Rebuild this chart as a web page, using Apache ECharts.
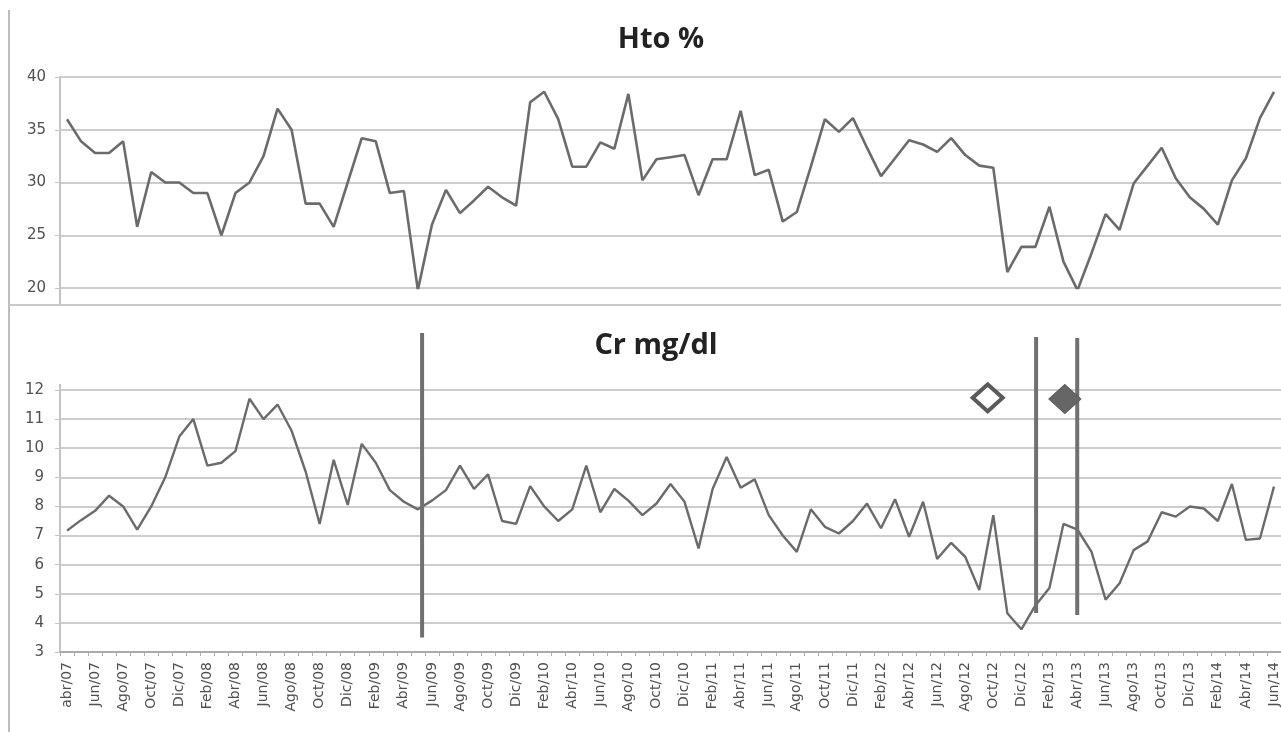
<!DOCTYPE html>
<html>
<head>
<meta charset="utf-8">
<script src="https://cdn.jsdelivr.net/npm/echarts@6/dist/echarts.min.js"></script>
<style>
html,body{margin:0;padding:0;background:#fff;}
#c{width:1281px;height:732px;}
</style>
</head>
<body>
<div id="c"></div>
<script>
// Month labels (every second month shown on the axis)
var tickLabels = ["abr/07","Jun/07","Ago/07","Oct/07","Dic/07","Feb/08","Abr/08","Jun/08","Ago/08","Oct/08","Dic/08","Feb/09","Abr/09","Jun/09","Ago/09","Oct/09","Dic/09","Feb/10","Abr/10","Jun/10","Ago/10","Oct/10","Dic/10","Feb/11","Abr/11","Jun/11","Ago/11","Oct/11","Dic/11","Feb/12","Abr/12","Jun/12","Ago/12","Oct/12","Dic/12","Feb/13","Abr/13","Jun/13","Ago/13","Oct/13","Dic/13","Feb/14","Abr/14","Jun/14"];

// Hematocrit % (monthly, abr/07 .. Jun/14)
var hto = [36.0,33.9,32.8,32.8,33.9,25.8,31.0,30.0,30.0,29.0,29.0,25.0,29.0,30.0,32.5,37.0,35.0,28.0,28.0,25.8,30.0,34.2,33.9,29.0,29.2,19.8,
  26.0,29.3,27.1,28.3,29.6,28.6,27.8,37.6,38.6,36.0,31.5,31.5,33.8,33.2,38.4,30.2,32.2,32.4,32.6,28.8,32.2,32.2,36.8,30.7,31.2,26.3,27.2,31.5,36.0,34.8,
  36.1,33.3,30.6,32.3,34.0,33.6,32.9,34.2,32.6,31.6,31.4,21.5,23.9,23.9,27.7,22.5,19.8,23.3,27.0,25.5,29.9,31.6,33.3,30.4,28.6,27.5,26.0,30.2,32.3,36.1,38.6];

// Creatinine mg/dl (monthly)
var cr = [7.17,7.53,7.85,8.37,8.0,7.2,8.0,9.0,10.4,11.0,9.4,9.5,9.9,11.7,11.0,11.5,10.6,9.2,7.4,9.6,8.05,10.15,9.5,8.56,8.16,7.9,
  8.2,8.56,9.4,8.6,9.1,7.5,7.4,8.7,8.0,7.5,7.9,9.4,7.8,8.6,8.2,7.7,8.1,8.77,8.16,6.56,8.6,9.7,8.64,8.93,7.7,7.0,6.44,7.9,7.3,7.07,
  7.5,8.1,7.25,8.25,6.96,8.16,6.2,6.75,6.27,5.13,7.7,4.33,3.78,4.6,5.2,7.4,7.2,6.44,4.8,5.36,6.5,6.8,7.8,7.65,8.0,7.93,7.5,8.77,6.85,6.9,8.68];

// Event markers (month index position, lower and upper end in Cr units)
var eventX = [25.3, 69.05, 71.98];
var eventLow = [3.5, 4.34, 4.27];
var eventHigh = [13.96, 13.82, 13.79];

// Diamond markers
var hollowDiamond = [65.6, 11.73];
var filledDiamond = [71.1, 11.69];

var htoTicks = [20, 25, 30, 35, 40];
var crTicks = [3, 4, 5, 6, 7, 8, 9, 10, 11, 12];

var htoData = hto.map(function (v, i) { return [i, v]; });
var crData = cr.map(function (v, i) { return [i, v]; });
var labelVals = tickLabels.map(function (l, i) { return i * 2; });
var tickVals = [];
for (var k = 0; k <= cr.length; k++) { tickVals.push(k - 0.5); }

var lineColor = '#6b6b6b';
var gridColor = '#cdcdcd';
var labelColor = '#505050';

var eventSeries = eventX.map(function (x, i) {
  return {
    type: 'line', xAxisIndex: 1, yAxisIndex: 1, clip: false, symbol: 'none', silent: true,
    data: [[x, eventLow[i]], [x, eventHigh[i]]],
    lineStyle: { color: '#707070', width: 4 }, z: 4
  };
});

var chart = echarts.init(document.getElementById('c'), null, { renderer: 'canvas' });
chart.setOption({
  backgroundColor: '#fff',
  animation: false,
  grid: [
    { left: 60, top: 77, width: 1222, height: 211 },
    { left: 60, top: 390, width: 1222, height: 262 }
  ],
  xAxis: [
    { gridIndex: 0, type: 'value', min: -0.5, max: 86.5, show: false },
    { gridIndex: 1, type: 'value', min: -0.5, max: 86.5,
      axisLine: { show: true, onZero: false, lineStyle: { color: '#aaaaaa', width: 2 } },
      axisTick: { show: true, customValues: tickVals, length: 4, lineStyle: { color: '#aaaaaa', width: 1 } },
      splitLine: { show: false },
      axisLabel: { customValues: labelVals, rotate: 90, margin: 10, color: labelColor,
        fontFamily: 'DejaVu Sans', fontSize: 14,
        formatter: function (v) { return tickLabels[Math.round(v / 2)] || ''; } } }
  ],
  yAxis: [
    { gridIndex: 0, type: 'value', min: 20, max: 40, interval: 5,
      axisLine: { show: true, onZero: false, lineStyle: { color: '#c4c4c4', width: 2 } },
      axisTick: { show: true, length: 5, lineStyle: { color: '#c4c4c4' } },
      splitLine: { show: true, lineStyle: { color: gridColor, width: 2 } },
      axisLabel: { color: labelColor, fontFamily: 'DejaVu Sans', fontSize: 15, margin: 14,
        customValues: htoTicks } },
    { gridIndex: 1, type: 'value', min: 3, max: 12, interval: 1,
      axisLine: { show: true, onZero: false, lineStyle: { color: '#c4c4c4', width: 2 } },
      axisTick: { show: true, length: 5, lineStyle: { color: '#c4c4c4' } },
      splitLine: { show: true, lineStyle: { color: gridColor, width: 2 } },
      axisLabel: { color: labelColor, fontFamily: 'DejaVu Sans', fontSize: 15, margin: 16,
        customValues: crTicks } }
  ],
  graphic: [
    { type: 'line', shape: { x1: 9, y1: 10, x2: 9, y2: 732 }, style: { stroke: '#bdbdbd', lineWidth: 2 } },
    { type: 'line', shape: { x1: 9, y1: 305, x2: 1281, y2: 305 }, style: { stroke: '#c8c8c8', lineWidth: 2 } },
    { type: 'line', shape: { x1: 60, y1: 288, x2: 60, y2: 305 }, style: { stroke: '#c4c4c4', lineWidth: 2 } },
    { type: 'line', shape: { x1: 60, y1: 384, x2: 60, y2: 390 }, style: { stroke: '#c4c4c4', lineWidth: 2 } },
    { type: 'text', x: 661, y: 40, style: { text: 'Hto %', fill: '#222', font: 'bold 29px "Open Sans"', textAlign: 'center', textVerticalAlign: 'middle' } },
    { type: 'text', x: 656, y: 346, style: { text: 'Cr mg/dl', fill: '#222', font: 'bold 29px "Open Sans"', textAlign: 'center', textVerticalAlign: 'middle' } }
  ],
  series: [
    { type: 'line', xAxisIndex: 0, yAxisIndex: 0, data: htoData, symbol: 'none',
      lineStyle: { color: lineColor, width: 2.6 }, z: 3 },
    { type: 'line', xAxisIndex: 1, yAxisIndex: 1, data: crData, symbol: 'none',
      lineStyle: { color: lineColor, width: 2.4 }, z: 3 },
    { type: 'scatter', xAxisIndex: 1, yAxisIndex: 1, clip: false, symbol: 'diamond', symbolSize: [30, 27],
      data: [hollowDiamond], itemStyle: { color: '#ffffff', borderColor: '#5a5a5a', borderWidth: 4, opacity: 1 }, z: 5 },
    { type: 'scatter', xAxisIndex: 1, yAxisIndex: 1, clip: false, symbol: 'diamond', symbolSize: [32, 29],
      data: [filledDiamond], itemStyle: { color: '#666666', borderColor: '#5a5a5a', borderWidth: 1, opacity: 1 }, z: 5 }
  ].concat(eventSeries)
});
</script>
</body>
</html>
